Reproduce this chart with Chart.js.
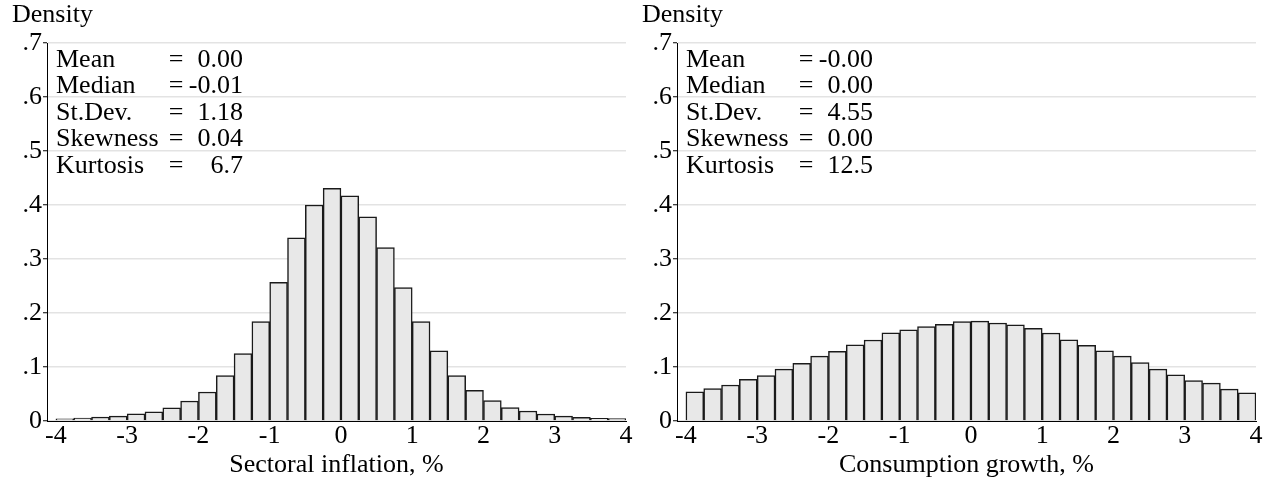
<!DOCTYPE html>
<html>
<head>
<meta charset="utf-8">
<title>Histograms</title>
<script src="https://cdn.jsdelivr.net/npm/chart.js@4/dist/chart.umd.min.js"></script>
<style>
    html, body { margin: 0; padding: 0; background: #fff; }
    #wrap { position: relative; width: 1270px; height: 481px; overflow: hidden; }
    .panel { position: absolute; top: 0; width: 640px; height: 481px; }
</style>
</head>
<body>
<div id="wrap">
    <div class="panel" style="left:0"><canvas id="inflation-chart" width="640" height="481"></canvas></div>
    <div class="panel" style="left:630px"><canvas id="consumption-chart" width="640" height="481"></canvas></div>
</div>
<script>
// Bin centres (bin width 0.25)
const binCenters = [
    -3.875, -3.625, -3.375, -3.125, -2.875, -2.625, -2.375, -2.125,
    -1.875, -1.625, -1.375, -1.125, -0.875, -0.625, -0.375, -0.125,
    0.125, 0.375, 0.625, 0.875, 1.125, 1.375, 1.625, 1.875,
    2.125, 2.375, 2.625, 2.875, 3.125, 3.375, 3.625, 3.875
];

// Densities
const inflationDensity = [
    0.004, 0.0055, 0.0074, 0.009, 0.0135, 0.017, 0.0246, 0.037,
    0.0537, 0.084, 0.125, 0.184, 0.257, 0.339, 0.400, 0.431,
    0.417, 0.378, 0.321, 0.247, 0.184, 0.130, 0.084, 0.057,
    0.038, 0.025, 0.0185, 0.013, 0.009, 0.0067, 0.005, 0.0043
];
const consumptionDensity = [
    0.054, 0.060, 0.0667, 0.077, 0.084, 0.096, 0.107, 0.120,
    0.129, 0.141, 0.150, 0.1635, 0.169, 0.175, 0.179, 0.184,
    0.185, 0.1815, 0.178, 0.1715, 0.163, 0.1505, 0.140, 0.130,
    0.120, 0.108, 0.096, 0.0857, 0.075, 0.070, 0.059, 0.052
];

const xTicks = [-4, -3, -2, -1, 0, 1, 2, 3, 4];
const xTickLabels = ['-4', '-3', '-2', '-1', '0', '1', '2', '3', '4'];
const yTicks = [0, 0.1, 0.2, 0.3, 0.4, 0.5, 0.6, 0.7];
const yTickLabels = ['0', '.1', '.2', '.3', '.4', '.5', '.6', '.7'];

const statNames = ['Mean', 'Median', 'St.Dev.', 'Skewness', 'Kurtosis'];
const inflationStats = ['0.00', '-0.01', '1.18', '0.04', '6.7'];
const consumptionStats = ['-0.00', '0.00', '4.55', '0.00', '12.5'];

const FONT = '"Liberation Serif", "Times New Roman", serif';
const FONT_SIZE = 26;

// Draws the "Density" heading and the summary statistics
const statsPlugin = {
    id: 'statsText',
    afterDraw(chart, args, opts) {
        const ctx = chart.ctx;
        const area = chart.chartArea;
        ctx.save();
        ctx.fillStyle = '#000';
        ctx.font = FONT_SIZE + 'px ' + FONT;
        ctx.textBaseline = 'alphabetic';

        ctx.textAlign = 'left';
        ctx.fillText('Density', area.left - 35, 22);

        statNames.forEach((name, i) => {
            const y = area.top + 23.5 + i * 26.5;
            ctx.textAlign = 'left';
            ctx.fillText(name, area.left + 9, y);
            ctx.textAlign = 'center';
            ctx.fillText('=', area.left + 129, y);
            ctx.textAlign = 'right';
            ctx.fillText(opts.values[i], area.left + 196, y);
        });
        ctx.restore();
    }
};

function createHistogram(canvasId, density, xTitle, stats) {
    const ctx = document.getElementById(canvasId);
    return new Chart(ctx, {
        type: 'bar',
        data: {
            datasets: [{
                data: binCenters.map((x, i) => ({ x: x, y: density[i] })),
                backgroundColor: '#e8e8e8',
                borderColor: '#1a1a1a',
                borderWidth: 1.5,
                barPercentage: 1,
                categoryPercentage: 1
            }]
        },
        options: {
            responsive: false,
            animation: false,
            layout: { padding: { left: 0, right: 14, top: 43, bottom: 0 } },
            plugins: {
                legend: { display: false },
                tooltip: { enabled: false },
                statsText: { values: stats }
            },
            scales: {
                x: {
                    type: 'linear',
                    offset: false,
                    min: -4.125,
                    max: 4,
                    afterBuildTicks: scale => { scale.ticks = xTicks.map(v => ({ value: v })); },
                    afterFit: scale => { scale.height = 60; },
                    grid: { display: false, drawTicks: false },
                    border: { display: true, color: '#000', width: 1 },
                    ticks: {
                        color: '#000',
                        padding: 0,
                        maxRotation: 0,
                        autoSkip: false,
                        font: { family: FONT, size: FONT_SIZE },
                        callback: (value) => xTickLabels[xTicks.indexOf(value)]
                    },
                    title: {
                        display: true,
                        text: xTitle,
                        color: '#000',
                        padding: { top: 0, bottom: 0 },
                        font: { family: FONT, size: FONT_SIZE }
                    }
                },
                y: {
                    min: 0,
                    max: 0.7,
                    afterBuildTicks: scale => { scale.ticks = yTicks.map(v => ({ value: v })); },
                    afterFit: scale => { scale.width = 47; },
                    grid: {
                        color: '#e3e3e3',
                        lineWidth: 1.5,
                        tickColor: '#000',
                        tickLength: 4,
                        tickWidth: 1
                    },
                    border: { display: true, color: '#000', width: 1 },
                    ticks: {
                        color: '#000',
                        padding: 1,
                        autoSkip: false,
                        font: { family: FONT, size: FONT_SIZE },
                        callback: (value) => yTickLabels[yTicks.indexOf(value)]
                    }
                }
            }
        },
        plugins: [statsPlugin]
    });
}

createHistogram('inflation-chart', inflationDensity, 'Sectoral inflation, %', inflationStats);
createHistogram('consumption-chart', consumptionDensity, 'Consumption growth, %', consumptionStats);
</script>
</body>
</html>
